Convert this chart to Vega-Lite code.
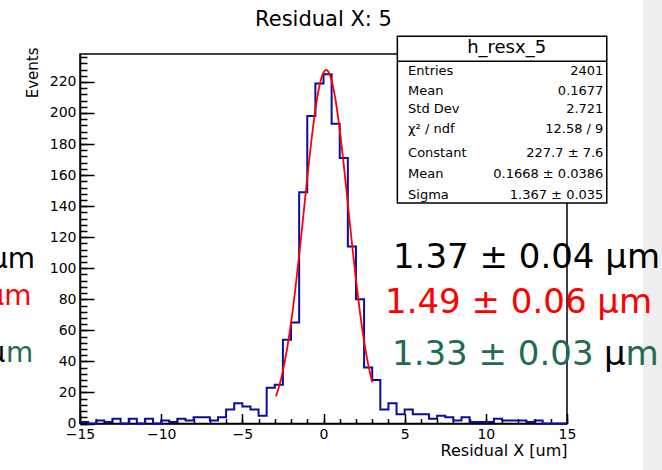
{
  "$schema": "https://vega.github.io/schema/vega-lite/v6.json",
  "width": 487,
  "height": 369.5,
  "autosize": "none",
  "padding": {"left": 80, "top": 54, "right": 95, "bottom": 46.5},
  "background": "white",
  "config": {
    "view": {"stroke": "black", "strokeWidth": 1.5},
    "axis": {"labelFont": "DejaVu Sans", "titleFont": "DejaVu Sans", "domainColor": "black", "tickColor": "black", "labelColor": "black", "titleColor": "black", "grid": false, "titleFontWeight": "normal"},
    "text": {"font": "DejaVu Sans"}
  },
  "resolve": {"axis": {"x": "independent", "y": "independent"}},
  "encoding": {
    "x": {"field": "x", "type": "quantitative", "scale": {"domain": [-15, 15], "nice": false, "zero": false}, "axis": null},
    "y": {"field": "y", "type": "quantitative", "scale": {"domain": [0, 238], "nice": false, "zero": false}, "axis": null}
  },
  "datasets": {
    "hist": [
      {"x": -15, "y": 1}, {"x": -14.5, "y": 0}, {"x": -14, "y": 2}, {"x": -13.5, "y": 1},
      {"x": -13, "y": 3}, {"x": -12.5, "y": 0}, {"x": -12, "y": 3}, {"x": -11.5, "y": 0},
      {"x": -11, "y": 3}, {"x": -10.5, "y": 0}, {"x": -10, "y": 2}, {"x": -9.5, "y": 1},
      {"x": -9, "y": 3}, {"x": -8.5, "y": 2}, {"x": -8, "y": 4}, {"x": -7.5, "y": 4},
      {"x": -7, "y": 2}, {"x": -6.5, "y": 4}, {"x": -6, "y": 9}, {"x": -5.5, "y": 13},
      {"x": -5, "y": 11}, {"x": -4.5, "y": 9}, {"x": -4, "y": 5}, {"x": -3.5, "y": 23},
      {"x": -3, "y": 25}, {"x": -2.5, "y": 54}, {"x": -2, "y": 65}, {"x": -1.5, "y": 149},
      {"x": -1, "y": 198}, {"x": -0.5, "y": 219}, {"x": 0, "y": 225}, {"x": 0.5, "y": 193},
      {"x": 1, "y": 171}, {"x": 1.5, "y": 114}, {"x": 2, "y": 80}, {"x": 2.5, "y": 36},
      {"x": 3, "y": 28}, {"x": 3.5, "y": 9}, {"x": 4, "y": 13}, {"x": 4.5, "y": 6},
      {"x": 5, "y": 9}, {"x": 5.5, "y": 6}, {"x": 6, "y": 6}, {"x": 6.5, "y": 3},
      {"x": 7, "y": 5}, {"x": 7.5, "y": 4}, {"x": 8, "y": 2}, {"x": 8.5, "y": 4},
      {"x": 9, "y": 1}, {"x": 9.5, "y": 1}, {"x": 10, "y": 1}, {"x": 10.5, "y": 3},
      {"x": 11, "y": 2}, {"x": 11.5, "y": 2}, {"x": 12, "y": 2}, {"x": 12.5, "y": 1},
      {"x": 13, "y": 2}, {"x": 13.5, "y": 0}, {"x": 14, "y": 0}, {"x": 14.5, "y": 0},
      {"x": 15, "y": 0}
    ],
    "fit": [
      {"x": -2.93, "y": 17.5}, {"x": -2.75, "y": 23.4}, {"x": -2.5, "y": 33.9}, {"x": -2.25, "y": 47.7},
      {"x": -2.0, "y": 64.8}, {"x": -1.75, "y": 85.2}, {"x": -1.5, "y": 108.3}, {"x": -1.25, "y": 133.1},
      {"x": -1.0, "y": 158.2}, {"x": -0.75, "y": 181.8}, {"x": -0.5, "y": 202.2}, {"x": -0.25, "y": 217.4},
      {"x": 0.0, "y": 226.0}, {"x": 0.1668, "y": 227.7}, {"x": 0.25, "y": 227.3}, {"x": 0.5, "y": 221.0},
      {"x": 0.75, "y": 207.9}, {"x": 1.0, "y": 189.1}, {"x": 1.25, "y": 166.4}, {"x": 1.5, "y": 141.5},
      {"x": 1.75, "y": 116.4}, {"x": 2.0, "y": 92.7}, {"x": 2.25, "y": 71.3}, {"x": 2.5, "y": 53.1},
      {"x": 2.75, "y": 38.2}, {"x": 3.0, "y": 26.6}
    ],
    "strip": [{"x": 19.7, "x2": 22, "y": -40, "y2": 280}],
    "box": [{"x": 4.55, "x2": 17.45, "y": 249.5, "y2": 142.1}],
    "boxline": [{"x": 4.55, "x2": 17.45, "y": 233.4}],
    "title": [{"x": 0, "y": 255.8, "text": "Residual X: 5"}],
    "boxtitle": [{"x": 11.28, "y": 241.6, "text": "h_resx_5"}],
    "statlabels": [
      {"x": 5.21, "y": 227.0, "text": "Entries"},
      {"x": 5.21, "y": 214.1, "text": "Mean"},
      {"x": 5.21, "y": 202.3, "text": "Std Dev"},
      {"x": 5.21, "y": 189.4, "text": "χ² / ndf"},
      {"x": 5.21, "y": 174.3, "text": "Constant"},
      {"x": 5.21, "y": 161.0, "text": "Mean"},
      {"x": 5.21, "y": 147.4, "text": "Sigma"}
    ],
    "statvalues": [
      {"x": 17.24, "y": 227.0, "text": "2401"},
      {"x": 17.24, "y": 214.1, "text": "0.1677"},
      {"x": 17.24, "y": 202.3, "text": "2.721"},
      {"x": 17.24, "y": 189.4, "text": "12.58 / 9"},
      {"x": 17.24, "y": 174.3, "text": "227.7 ± 7.6"},
      {"x": 17.24, "y": 161.0, "text": "0.1668 ± 0.0386"},
      {"x": 17.24, "y": 147.4, "text": "1.367 ± 0.035"}
    ],
    "bigblack": [
      {"x": 4.28, "y": 100.3, "text": "1.37 ± 0.04 μm"},
      {"x": 17.28, "y": 37.7, "text": "μ"}
    ],
    "bigred": [{"x": 3.79, "y": 71.3, "text": "1.49 ± 0.06 μm"}],
    "biggreen": [
      {"x": 4.22, "y": 37.7, "text": "1.33 ± 0.03"},
      {"x": 18.6, "y": 37.7, "text": "m"}
    ],
    "leftblack": [
      {"x": -17.77, "y": 100.3, "text": "1.37 ± 0.04 μm"},
      {"x": -19.6, "y": 39.7, "text": "μ"}
    ],
    "leftred": [{"x": -17.98, "y": 76.5, "text": "1.49 ± 0.06 μm"}],
    "leftgreen": [{"x": -17.88, "y": 39.7, "text": "m"}]
  },
  "layer": [
    {
      "data": {"name": "strip"},
      "mark": {"type": "rect", "color": "#eeeeee"},
      "encoding": {"x2": {"field": "x2"}, "y2": {"field": "y2"}}
    },
    {
      "data": {"name": "hist"},
      "mark": {"type": "line", "interpolate": "step-after", "color": "#0c0ca0", "strokeWidth": 2},
      "encoding": {
        "x": {"field": "x", "type": "quantitative", "scale": {"domain": [-15, 15], "nice": false, "zero": false},
          "axis": {"orient": "bottom", "values": [-15, -10, -5, 0, 5, 10, 15], "format": "d", "tickSize": -10, "tickWidth": 1.5, "domainWidth": 1.5, "labelPadding": 14, "labelFontSize": 14, "labelFlush": false,
            "title": "Residual X [um]", "titleFontSize": 16, "titleAlign": "right", "titleAnchor": "end", "titleX": 487, "titleY": 31.5, "titleBaseline": "alphabetic"}},
        "y": {"field": "y", "type": "quantitative", "scale": {"domain": [0, 238], "nice": false, "zero": false},
          "axis": {"orient": "left", "values": [0, 20, 40, 60, 80, 100, 120, 140, 160, 180, 200, 220], "tickSize": -14, "tickWidth": 1.5, "domainWidth": 1.5, "labelPadding": 18, "labelFontSize": 14,
            "title": "Events", "titleFontSize": 15, "titleAngle": 270, "titleAlign": "right", "titleBaseline": "bottom", "titleX": -40, "titleY": -7}}
      }
    },
    {
      "data": {"name": "fit"},
      "mark": {"type": "line", "interpolate": "monotone", "color": "#ff0000", "strokeWidth": 1.8},
      "encoding": {
        "x": {"field": "x", "type": "quantitative", "scale": {"domain": [-15, 15], "nice": false, "zero": false},
          "axis": {"orient": "bottom", "values": [-15, -14, -13, -12, -11, -10, -9, -8, -7, -6, -5, -4, -3, -2, -1, 0, 1, 2, 3, 4, 5, 6, 7, 8, 9, 10, 11, 12, 13, 14, 15], "tickSize": -5, "tickWidth": 1.5, "labels": false, "domain": false, "title": null}},
        "y": {"field": "y", "type": "quantitative", "scale": {"domain": [0, 238], "nice": false, "zero": false},
          "axis": {"orient": "left", "values": [0, 4, 8, 12, 16, 20, 24, 28, 32, 36, 40, 44, 48, 52, 56, 60, 64, 68, 72, 76, 80, 84, 88, 92, 96, 100, 104, 108, 112, 116, 120, 124, 128, 132, 136, 140, 144, 148, 152, 156, 160, 164, 168, 172, 176, 180, 184, 188, 192, 196, 200, 204, 208, 212, 216, 220, 224, 228, 232, 236], "tickSize": -7, "tickWidth": 1.5, "labels": false, "domain": false, "title": null}}
      }
    },
    {
      "data": {"name": "box"},
      "mark": {"type": "rect", "fill": "white", "stroke": "black", "strokeWidth": 1.5},
      "encoding": {"x2": {"field": "x2"}, "y2": {"field": "y2"}}
    },
    {
      "data": {"name": "boxline"},
      "mark": {"type": "rule", "color": "black", "strokeWidth": 1.5},
      "encoding": {"x2": {"field": "x2"}}
    },
    {
      "data": {"name": "title"},
      "mark": {"type": "text", "align": "center", "baseline": "alphabetic", "fontSize": 21, "color": "black"},
      "encoding": {"text": {"field": "text"}}
    },
    {
      "data": {"name": "boxtitle"},
      "mark": {"type": "text", "align": "center", "baseline": "middle", "fontSize": 18, "color": "black"},
      "encoding": {"text": {"field": "text"}}
    },
    {
      "data": {"name": "statlabels"},
      "mark": {"type": "text", "align": "left", "baseline": "middle", "fontSize": 13, "color": "black"},
      "encoding": {"text": {"field": "text"}}
    },
    {
      "data": {"name": "statvalues"},
      "mark": {"type": "text", "align": "right", "baseline": "middle", "fontSize": 13, "color": "black"},
      "encoding": {"text": {"field": "text"}}
    },
    {
      "data": {"name": "bigblack"},
      "mark": {"type": "text", "align": "left", "baseline": "alphabetic", "fontSize": 34, "color": "black"},
      "encoding": {"text": {"field": "text"}}
    },
    {
      "data": {"name": "bigred"},
      "mark": {"type": "text", "align": "left", "baseline": "alphabetic", "fontSize": 34, "color": "#ff0000"},
      "encoding": {"text": {"field": "text"}}
    },
    {
      "data": {"name": "biggreen"},
      "mark": {"type": "text", "align": "left", "baseline": "alphabetic", "fontSize": 34, "color": "#1f6b55"},
      "encoding": {"text": {"field": "text"}}
    },
    {
      "data": {"name": "leftblack"},
      "mark": {"type": "text", "align": "right", "baseline": "alphabetic", "fontSize": 28, "color": "black"},
      "encoding": {"text": {"field": "text"}}
    },
    {
      "data": {"name": "leftred"},
      "mark": {"type": "text", "align": "right", "baseline": "alphabetic", "fontSize": 28, "color": "#ff0000"},
      "encoding": {"text": {"field": "text"}}
    },
    {
      "data": {"name": "leftgreen"},
      "mark": {"type": "text", "align": "right", "baseline": "alphabetic", "fontSize": 28, "color": "#1f6b55"},
      "encoding": {"text": {"field": "text"}}
    }
  ]
}
